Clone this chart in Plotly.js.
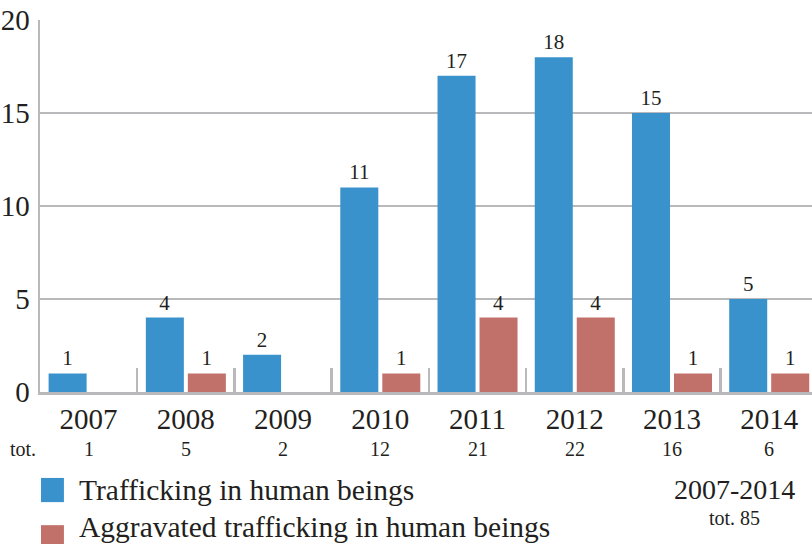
<!DOCTYPE html>
<html>
<head>
<meta charset="utf-8">
<script src="https://cdn.plot.ly/plotly-3.0.1.min.js"></script>
<style>html,body{margin:0;padding:0;background:#fff;}#chart{width:812px;height:544px;}</style>
</head>
<body>
<div id="chart"></div>
<script>
const years = ["2007","2008","2009","2010","2011","2012","2013","2014"];
const trafficking = [1,4,2,11,17,18,15,5];
const aggravated = [null,1,null,1,4,4,1,1];
const totals = [1,5,2,12,21,22,16,6];
const seriesNames = ["Trafficking in human beings","Aggravated trafficking in human beings"];
const periodLabel = "2007-2014";
const periodTotal = "tot. 85";
const totLabel = "tot.";

const blue = "#3a92cc";
const red = "#c1706a";
const gray = "#b9b9bb";
const ink = "#231f20";
const serif = "Liberation Serif";

const traces = [
  {type:"bar", x: years, y: trafficking, name: seriesNames[0], marker:{color: blue},
   text: trafficking.map(v => v == null ? "" : String(v)), textposition:"outside",
   textfont:{family: serif, size: 21, color: ink}, cliponaxis:false, hoverinfo:"skip"},
  {type:"bar", x: years, y: aggravated, name: seriesNames[1], marker:{color: red},
   text: aggravated.map(v => v == null ? "" : String(v)), textposition:"outside",
   textfont:{family: serif, size: 21, color: ink}, cliponaxis:false, hoverinfo:"skip"}
];

const annotations = [];
years.forEach((yr, i) => {
  annotations.push({x: i, xref:"x", y: -0.153, yref:"paper", text: String(totals[i]),
    showarrow:false, xanchor:"center", yanchor:"middle", font:{family: serif, size: 20, color: ink}});
});
annotations.push({x: -0.022, xref:"paper", y: -0.153, yref:"paper", text: totLabel,
  showarrow:false, xanchor:"center", yanchor:"middle", font:{family: serif, size: 20, color: ink}});
annotations.push({x: 0.048, xref:"paper", y: -0.263, yref:"paper", text: seriesNames[0],
  showarrow:false, xanchor:"left", yanchor:"middle", font:{family: serif, size: 29.5, color: ink}});
annotations.push({x: 0.048, xref:"paper", y: -0.363, yref:"paper", text: seriesNames[1],
  showarrow:false, xanchor:"left", yanchor:"middle", font:{family: serif, size: 29.5, color: ink}});
annotations.push({x: 0.899, xref:"paper", y: -0.261, yref:"paper", text: periodLabel,
  showarrow:false, xanchor:"center", yanchor:"middle", font:{family: serif, size: 28, color: ink}});
annotations.push({x: 0.899, xref:"paper", y: -0.339, yref:"paper", text: periodTotal,
  showarrow:false, xanchor:"center", yanchor:"middle", font:{family: serif, size: 20, color: ink}});

const shapes = [
  {type:"rect", xref:"paper", yref:"paper", x0:0.0013, x1:0.031, y0:-0.231, y1:-0.296, fillcolor: blue, line:{width:0}},
  {type:"rect", xref:"paper", yref:"paper", x0:0.0013, x1:0.031, y0:-0.358, y1:-0.422, fillcolor: red, line:{width:0}}
];

const layout = {
  width: 812, height: 544,
  margin: {l: 40, r: 0, t: 20, b: 152, pad: 0},
  paper_bgcolor: "#fff", plot_bgcolor: "#fff",
  barmode: "group", bargap: 0.136, bargroupgap: 0.095,
  showlegend: false,
  font: {family: serif, color: ink},
  xaxis: {type:"category", range:[-0.5, 7.44], showgrid:false, showline:true, linecolor: gray, linewidth: 2.5,
    ticks:"inside", tickson:"boundaries", ticklen: 24, tickwidth: 2.5, tickcolor: gray,
    tickfont:{family: serif, size: 29, color: ink}, zeroline:false, fixedrange:true},
  yaxis: {range:[0,20], tickvals:[0,5,10,15,20], showgrid:true, gridcolor: gray, gridwidth: 2.5,
    showline:true, linecolor: gray, linewidth: 2.5, ticks:"", zeroline:false,
    tickfont:{family: serif, size: 29, color: ink}, ticklabelstandoff: 2, fixedrange:true},
  annotations: annotations,
  shapes: shapes
};

Plotly.newPlot("chart", traces, layout, {displayModeBar:false, staticPlot:true});
</script>
</body>
</html>
